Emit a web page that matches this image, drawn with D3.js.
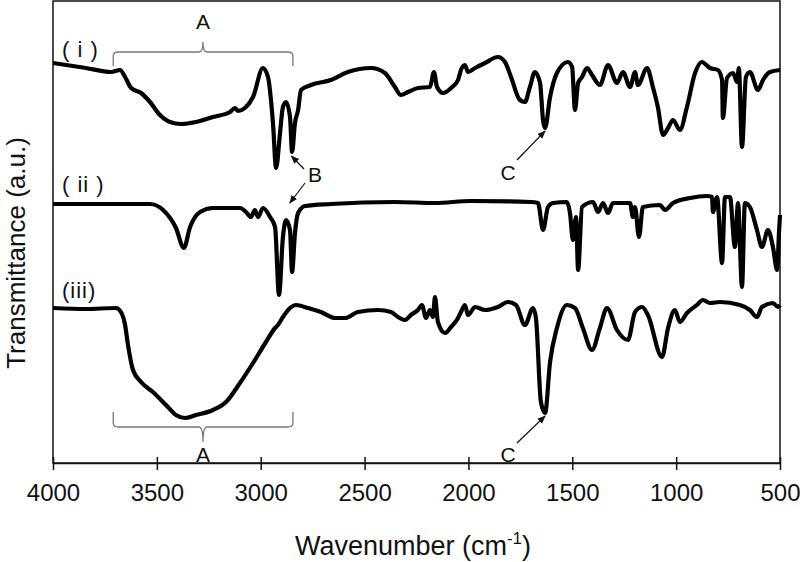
<!doctype html>
<html>
<head>
<meta charset="utf-8">
<title>FTIR spectra</title>
<script src="https://d3js.org/d3.v7.min.js"></script>
<style>
body { margin: 0; background: white; }
svg { display: block; font-family: "Liberation Sans", Arial, sans-serif; }
</style>
</head>
<body>
<div id="chart1"></div>
<script>
// wavenumber (cm-1), transmittance (a.u.)
var specI = [[4000,400],[3841,395],[3721,391],[3677,393],[3653,386],[3624,375],[3576,370],[3533,361],
  [3485,348],[3437,341],[3384,339],[3312,341],[3230,346],[3148,351],[3124,355],[3109,352],[3076,355],
  [3037,366],[2989,395],[2965,386],[2941,340],[2926,295],[2907,330],[2893,356],[2878,361],[2859,346],
  [2849,311],[2835,340],[2820,353],[2806,373],[2758,378],[2662,383],[2580,391],[2469,395],[2402,390],
  [2354,376],[2325,368],[2291,371],[2243,375],[2185,376],[2166,391],[2151,376],[2122,370],[2084,375],
  [2050,383],[2036,393],[2017,398],[2002,391],[1968,395],[1920,400],[1858,406],[1824,401],[1795,386],
  [1752,363],[1728,361],[1704,376],[1680,391],[1655,380],[1641,343],[1631,335],[1607,366],[1574,390],
  [1521,401],[1501,396],[1487,353],[1472,380],[1453,386],[1429,395],[1405,388],[1367,378],[1328,398],
  [1285,380],[1256,391],[1222,376],[1198,391],[1184,378],[1140,395],[1112,376],[1088,356],[1063,328],
  [1039,335],[1015,343],[982,333],[948,356],[909,390],[876,401],[837,395],[799,393],[779,383],[775,345],
  [755,385],[726,390],[707,381],[698,395],[683,316],[664,386],[645,391],[606,373],[582,383],[548,391],
  [500,393]];

var specII = [[4000,259],[3533,259],[3470,253],[3408,235],[3370,215],[3340,236],[3292,251],[3230,255],
  [3100,255],[3071,251],[3047,246],[3028,253],[3013,246],[2989,255],[2955,246],[2931,236],[2912,168],
  [2893,226],[2878,243],[2859,233],[2849,191],[2835,230],[2820,250],[2787,257],[2662,259],[2354,261],
  [2161,260],[1988,262],[1699,261],[1665,260],[1641,233],[1617,256],[1593,260],[1526,261],[1511,250],
  [1497,223],[1482,246],[1472,193],[1453,256],[1400,261],[1376,251],[1352,260],[1328,250],[1304,260],
  [1222,260],[1208,246],[1198,256],[1179,226],[1160,256],[1078,258],[1054,253],[1015,260],[933,265],
  [852,267],[827,266],[823,251],[803,266],[779,200],[765,266],[741,266],[717,216],[702,260],[683,176],
  [669,260],[645,256],[611,233],[587,216],[558,233],[534,216],[514,193],[505,230],[500,248]];

var specIII = [[4000,155],[3841,154],[3697,155],[3673,151],[3653,138],[3639,118],[3615,93],[3576,81],
  [3519,71],[3456,58],[3408,48],[3365,45],[3312,48],[3230,53],[3167,61],[3100,80],[3037,100],[2975,121],
  [2931,135],[2917,138],[2893,146],[2859,155],[2830,158],[2772,155],[2710,151],[2642,145],[2594,145],
  [2532,151],[2435,153],[2373,151],[2339,146],[2305,143],[2277,148],[2243,153],[2224,158],[2204,145],
  [2185,153],[2171,146],[2161,166],[2147,141],[2113,130],[2084,136],[2050,145],[2036,151],[2017,158],
  [2002,148],[1968,156],[1920,153],[1858,156],[1810,161],[1771,158],[1728,138],[1689,155],[1675,145],
  [1651,61],[1631,50],[1607,101],[1574,135],[1526,158],[1487,155],[1449,135],[1405,113],[1367,135],
  [1333,155],[1285,133],[1232,123],[1198,151],[1164,156],[1136,148],[1068,106],[1039,135],[1006,153],
  [982,141],[948,150],[900,158],[871,163],[837,160],[789,161],[693,158],[645,153],[611,146],[587,156],
  [534,160],[510,156],[500,158]];

var spectra = [specI, specII, specIII];
var traceLabels = ["( i )", "( ii )", "(iii)"];
var xTicks = [4000, 3500, 3000, 2500, 2000, 1500, 1000, 500];

var margin = {top: 1, right: 20, bottom: 99, left: 53},
  width = 800 - margin.left - margin.right,
  height = 562 - margin.top - margin.bottom;

var svg = d3.select("#chart1")
  .append("svg")
  .attr("width", 800)
  .attr("height", 562);

var x = d3.scaleLinear().domain([4000, 500]).range([margin.left, margin.left + width]);
var y = d3.scaleLinear().domain([0, 462]).range([margin.top + height, margin.top]);

// frame
svg.append("rect")
  .attr("x", margin.left)
  .attr("y", margin.top)
  .attr("width", width)
  .attr("height", height)
  .attr("fill", "none")
  .attr("stroke", "#111")
  .attr("stroke-width", 1.5);

// x axis, ticks cross the line
var xAxis = svg.append("g")
  .attr("transform", "translate(0," + (margin.top + height) + ")")
  .call(d3.axisBottom(x).tickValues(xTicks).tickFormat(d3.format("d"))
    .tickSizeOuter(0).tickSizeInner(7).tickPadding(14));
xAxis.select(".domain").attr("stroke", "#111").attr("stroke-width", 1.5);
xAxis.selectAll(".tick line").attr("y1", -6).attr("y2", 7).attr("stroke", "#111").attr("stroke-width", 1.5);
xAxis.selectAll(".tick text")
  .attr("font-size", "24px")
  .attr("font-family", "Liberation Sans, Arial, sans-serif")
  .attr("fill", "#111");

// axis titles
var xt = svg.append("text")
  .attr("x", 413)
  .attr("y", 555)
  .attr("text-anchor", "middle")
  .attr("font-size", "27px")
  .attr("fill", "#111")
  .text("Wavenumber (cm");
xt.append("tspan").attr("font-size", "17px").attr("dy", -11).text("-1");
xt.append("tspan").attr("dy", 11).text(")");

svg.append("text")
  .attr("transform", "rotate(-90)")
  .attr("x", -253)
  .attr("y", 25)
  .attr("text-anchor", "middle")
  .attr("font-size", "26px")
  .attr("fill", "#111")
  .text("Transmittance (a.u.)");

// spectra
var line = d3.line()
  .x(function(d) { return x(d[0]); })
  .y(function(d) { return y(d[1]); })
  .curve(d3.curveMonotoneX);

svg.selectAll("path.spec")
  .data(spectra)
  .enter()
  .append("path")
  .attr("class", "spec")
  .attr("d", line)
  .attr("fill", "none")
  .attr("stroke", "#000")
  .attr("stroke-width", 4.2)
  .attr("stroke-linejoin", "round");

// trace labels
var labelY = [57, 192, 298];
svg.selectAll("text.lab")
  .data(traceLabels)
  .enter()
  .append("text")
  .attr("class", "lab")
  .attr("x", 62)
  .attr("y", function(d, i) { return labelY[i]; })
  .attr("font-size", "22px")
  .attr("letter-spacing", "1px")
  .attr("fill", "#111")
  .text(function(d) { return d; });

// braces for region A
var bx0 = x(3710), bx1 = x(2845), bxm = x(3278);
function brace(yBar, yEnd, yTip) {
  var s = yEnd > yBar ? 1 : -1;
  return "M" + bx0 + "," + yEnd +
    " L" + bx0 + "," + (yBar + 4 * s) +
    " Q" + bx0 + "," + yBar + " " + (bx0 + 5) + "," + yBar +
    " L" + (bxm - 4) + "," + yBar +
    " Q" + bxm + "," + yBar + " " + bxm + "," + yTip +
    " Q" + bxm + "," + yBar + " " + (bxm + 4) + "," + yBar +
    " L" + (bx1 - 5) + "," + yBar +
    " Q" + bx1 + "," + yBar + " " + bx1 + "," + (yBar + 4 * s) +
    " L" + bx1 + "," + yEnd;
}
svg.append("path").attr("d", brace(52, 66, 42))
  .attr("fill", "none").attr("stroke", "#777").attr("stroke-width", 1.3);
svg.append("path").attr("d", brace(427, 412, 442))
  .attr("fill", "none").attr("stroke", "#777").attr("stroke-width", 1.3);

// arrow head marker
svg.append("defs").append("marker")
  .attr("id", "arr")
  .attr("viewBox", "0 0 10 10")
  .attr("refX", 9).attr("refY", 5)
  .attr("markerWidth", 7).attr("markerHeight", 7)
  .attr("orient", "auto")
  .append("path")
  .attr("d", "M0,1 L10,5 L0,9 Z")
  .attr("fill", "#111");

var arrows = [
  [304, 169, x(2852), 156],
  [305, 183, x(2860), 203],
  [517, 160, x(1631), 131],
  [517, 443, x(1631), 416]
];
svg.selectAll("line.arrow")
  .data(arrows)
  .enter()
  .append("line")
  .attr("class", "arrow")
  .attr("x1", function(d) { return d[0]; })
  .attr("y1", function(d) { return d[1]; })
  .attr("x2", function(d) { return d[2]; })
  .attr("y2", function(d) { return d[3]; })
  .attr("stroke", "#111")
  .attr("stroke-width", 1.2)
  .attr("marker-end", "url(#arr)");

var notes = [["A", bxm, 29], ["A", bxm, 462], ["B", 315, 182], ["C", 508, 180], ["C", 508, 462]];
svg.selectAll("text.note")
  .data(notes)
  .enter()
  .append("text")
  .attr("class", "note")
  .attr("x", function(d) { return d[1]; })
  .attr("y", function(d) { return d[2]; })
  .attr("text-anchor", "middle")
  .attr("font-size", "21px")
  .attr("fill", "#111")
  .text(function(d) { return d[0]; });
</script>
</body>
</html>
